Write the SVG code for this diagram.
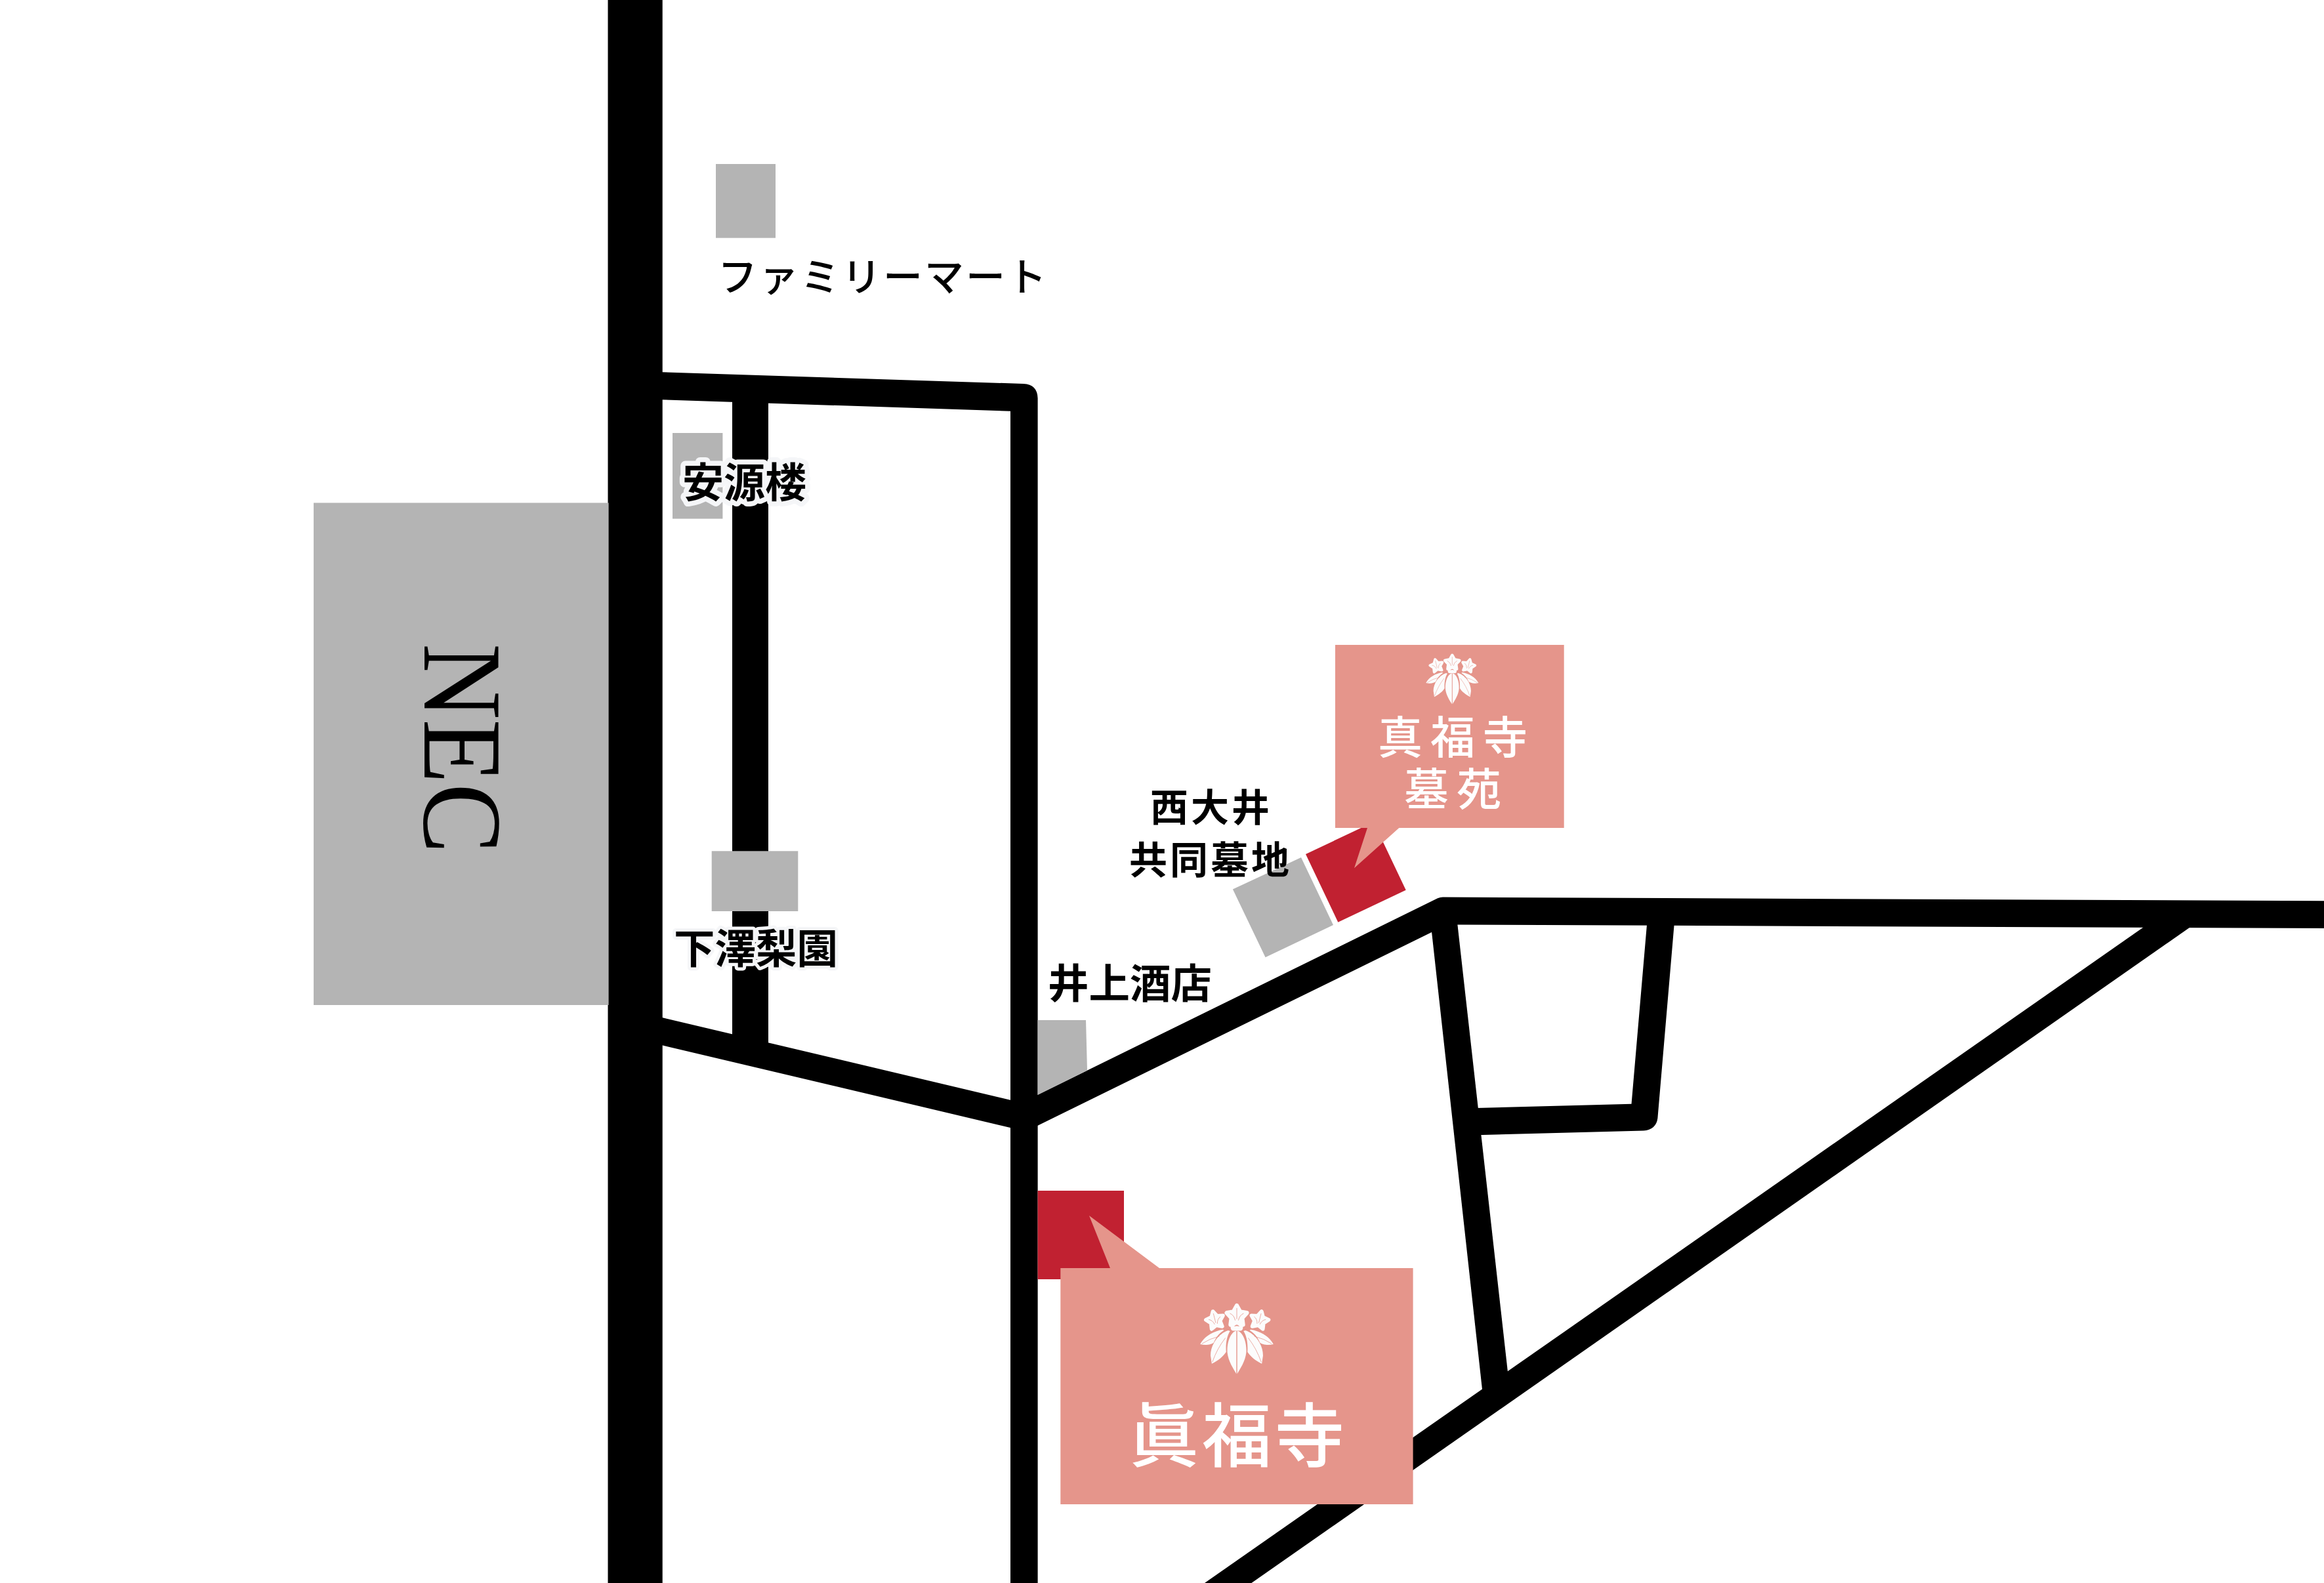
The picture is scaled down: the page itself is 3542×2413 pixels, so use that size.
<svg xmlns="http://www.w3.org/2000/svg" xmlns:xlink="http://www.w3.org/1999/xlink" width="3542" height="2413" viewBox="0 0 3542 2413">
<style>
.road{fill:#000}
.bldg{fill:#b4b4b4}
.temple{fill:#c12131}
.bubble{fill:#e5958b}
text{font-family:"Noto Sans CJK JP","Noto Sans CJK SC",sans-serif;font-weight:700;fill:#000}
.halo{stroke:#f5f6f8;stroke-width:15;stroke-linejoin:round;paint-order:stroke}
.wt{fill:#fff;font-weight:500}
.leaf{fill:#fcfcfc}
.vein{fill:none;stroke:#e5958b;stroke-width:1.6;stroke-linecap:round}
</style>
<defs>
<g id="flower">
<polygon points="0,-32 10,-13.8 30.4,-9.9 16.2,5.3 18.8,25.9 0,17 -18.8,25.9 -16.2,5.3 -30.4,-9.9 -10,-13.8" fill="#fcfcfc" stroke="#fcfcfc" stroke-width="13" stroke-linejoin="round"/>
<path class="vein" d="M0,-24V8M-20,-8Q-8,-3-5,12M20,-8Q8,-3 5,12"/>
</g>
<g id="emblem">
<use xlink:href="#flower" href="#flower" transform="translate(0,38) scale(1.08)"/>
<use xlink:href="#flower" href="#flower" transform="translate(-71,52) rotate(-14) scale(.95)"/>
<use xlink:href="#flower" href="#flower" transform="translate(74,52) rotate(14) scale(.95)"/>
<rect class="leaf" x="-20" y="58" width="40" height="28" rx="9"/>
<path d="M-9,72Q0,60 9,72Q0,68-9,72Z" fill="#e5958b"/>
<path class="leaf" d="M-1.5,86C-20,90-33,122-31,157C-28,187-10,212-1.5,227Z"/>
<path class="leaf" d="M1.5,86C20,90 33,122 31,157C28,187 10,212 1.5,227Z"/>
<path class="leaf" d="M-28,85C-62,96-86,132-86,167L-82,194C-62,184-44,170-35,155C-37,127-32,102-22,87Z"/>
<path class="leaf" d="M28,85C62,96 86,132 86,167L82,194C62,184 44,170 35,155C37,127 32,102 22,87Z"/>
<path class="leaf" d="M-46,82C-75,87-105,102-120,130C-100,135-82,130-76,125C-68,107-58,94-42,84Z"/>
<path class="leaf" d="M46,82C75,87 105,102 120,130C100,135 82,130 76,125C68,107 58,94 42,84Z"/>
<path class="vein" d="M-38,110Q-65,145-80,188M38,110Q65,145 80,188M-58,104Q-90,112-114,128M58,104Q90,112 114,128"/>
</g>
</defs>
<rect width="3542" height="2413" fill="#fff"/>
<g id="connectors">
<rect class="road" x="926.5" y="0" width="83.2" height="2413"/>
<path class="road" d="M1009,567.3L1560,585Q1581,586 1581.6,607V2413H1540V626.7L1009,609.3Z"/>
<rect class="road" x="1116" y="600" width="55" height="990"/>
<path class="road" d="M1009,1551L1545,1678L1545,1720.2L1009,1593.3Z"/>
<path class="road" d="M1575,1672L2191,1369.3Q2195,1367.6 2199,1367.6L3542,1373.3V1415L2221,1409.5L2182,1421L1575,1719Z"/>
<path class="road" d="M2181.1,1412L2220.9,1405L2298.4,2095L2259.8,2125Z"/>
<path class="road" d="M2510.4,1405L2486.5,1682.7L2240,1689.3L2240,1730.5L2505,1723.5Q2524,1722 2526.4,1704.5L2552,1405Z"/>
<path class="road" d="M3271.7,1410L3342.7,1410L1907.4,2413L1836,2413Z"/>
</g>
<g id="nec">
<rect class="bldg" x="478" y="766.5" width="449.6" height="765.5"/>
<text transform="translate(647,981) rotate(90)" font-size="172" textLength="320" lengthAdjust="spacingAndGlyphs" style="font-family:'Liberation Serif',serif;font-weight:400">NEC</text>
</g>
<g id="familymart">
<rect class="bldg" x="1091" y="250" width="91" height="112.7"/>
<text x="1094" y="444" font-size="60" letter-spacing="3" style="font-weight:500">ファミリーマート</text>
</g>
<g id="angenro">
<rect class="bldg" x="1025" y="660" width="76.4" height="130.7"/>
<text class="halo" x="1040" y="758" font-size="63">安源楼</text>
</g>
<g id="shimozawa">
<rect class="bldg" x="1084.7" y="1297.3" width="131.6" height="91.7"/>
<text class="halo" x="1027" y="1469" font-size="62.5" style="stroke-width:10">下澤梨園</text>
</g>
<g id="inoue">
<polygon class="bldg" points="1581.6,1555 1655,1555 1657,1631.7 1581.6,1669"/>
<text x="1597" y="1522" font-size="62.5">井上酒店</text>
</g>
<g id="kyodo-bochi">
<polygon class="bldg" points="1878.9,1355.5 1983,1307 2032,1410 1928.6,1459.2"/>
<text x="1753" y="1252" font-size="58" letter-spacing="4">西大井</text>
<text x="1721" y="1332" font-size="58" letter-spacing="4">共同墓地</text>
</g>
<g id="boen">
<polygon class="temple" points="1990,1302 2093.4,1253 2142.7,1356.7 2039.3,1405.7"/>
<path class="bubble" d="M2035,983H2383.7V1262H2132.3L2064,1323.3L2084,1262H2035Z"/>
<use xlink:href="#emblem" href="#emblem" transform="translate(2213.3,997.7) scale(.3333)"/>
<text class="wt" font-size="68" letter-spacing="12"><tspan x="2100" y="1149">真福寺</tspan><tspan x="2140" y="1228">墓苑</tspan></text>
</g>
<g id="shinpukuji">
<rect class="temple" x="1581.6" y="1815" width="131.4" height="135"/>
<path class="bubble" d="M1616.3,1933H1692L1660,1853L1767,1933H2153.6V2293H1616.3Z"/>
<use xlink:href="#emblem" href="#emblem" transform="translate(1885,1988.6) scale(.465)"/>
<text class="wt" x="1721" y="2227" font-size="106" letter-spacing="5">眞福寺</text>
</g>
</svg>
